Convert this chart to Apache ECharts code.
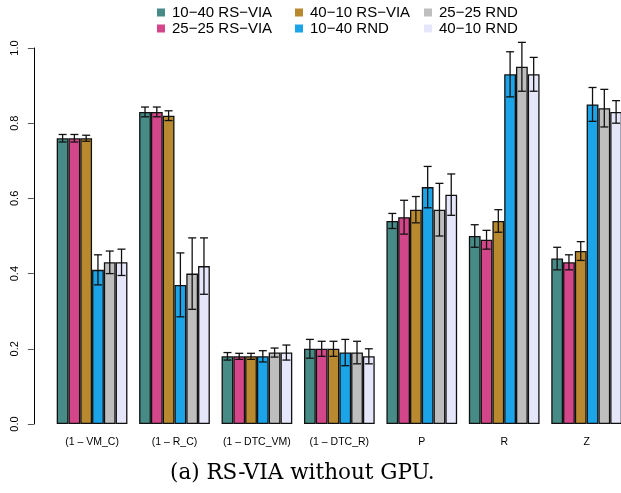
<!DOCTYPE html>
<html>
<head>
<meta charset="utf-8">
<script src="https://cdn.jsdelivr.net/npm/echarts@6/dist/echarts.min.js"></script>
<style>
  html, body { margin: 0; padding: 0; background: #fff; overflow: hidden; }
  #chart { width: 640px; height: 493px; }
</style>
</head>
<body>
<div id="chart"></div>
<script>
// categories on the x axis
const categories = ["(1 \u2013 VM_C)", "(1 \u2013 R_C)", "(1 \u2013 DTC_VM)", "(1 \u2013 DTC_R)", "P", "R", "Z"];
const seriesNames = ["10\u221240 RS\u2212VIA", "25\u221225 RS\u2212VIA", "40\u221210 RS\u2212VIA", "10\u221240 RND", "25\u221225 RND", "40\u221210 RND"];
const colors = ["#468b86", "#d4468a", "#b8892f", "#1ba4e8", "#bebebe", "#e6e6fa"];

// mean values, one array per series (order of categories)
const rsvia1040 = [0.76, 0.83, 0.18, 0.20, 0.54, 0.50, 0.44];
const rsvia2525 = [0.76, 0.83, 0.18, 0.20, 0.55, 0.49, 0.43];
const rsvia4010 = [0.76, 0.82, 0.18, 0.20, 0.57, 0.54, 0.46];
const rnd1040 = [0.41, 0.37, 0.18, 0.19, 0.63, 0.93, 0.85];
const rnd2525 = [0.43, 0.40, 0.19, 0.19, 0.57, 0.95, 0.84];
const rnd4010 = [0.43, 0.42, 0.19, 0.18, 0.61, 0.93, 0.83];

// half-width of the error bars
const errRsvia1040 = [0.010, 0.013, 0.010, 0.025, 0.020, 0.030, 0.030];
const errRsvia2525 = [0.010, 0.013, 0.008, 0.020, 0.045, 0.025, 0.020];
const errRsvia4010 = [0.008, 0.013, 0.008, 0.020, 0.035, 0.030, 0.025];
const errRnd1040 = [0.040, 0.085, 0.015, 0.035, 0.055, 0.060, 0.045];
const errRnd2525 = [0.030, 0.095, 0.012, 0.030, 0.070, 0.065, 0.050];
const errRnd4010 = [0.035, 0.075, 0.020, 0.020, 0.055, 0.045, 0.030];

const yTicks = [0, 0.2, 0.4, 0.6, 0.8, 1.0];

const values = [rsvia1040, rsvia2525, rsvia4010, rnd1040, rnd2525, rnd4010];
const errors = [errRsvia1040, errRsvia2525, errRsvia4010, errRnd1040, errRnd2525, errRnd4010];

const CAT_GAP = 0.142;

let barSeries = values.map(function (vals, s) {
  return {
    name: seriesNames[s],
    type: "bar",
    data: vals,
    barGap: "0%",
    barCategoryGap: (CAT_GAP * 100) + "%",
    itemStyle: { color: colors[s], borderColor: "#111", borderWidth: 1.3 },
    emphasis: { disabled: true },
    silent: true
  };
});

let errData = [];
values.forEach(function (vals, s) {
  vals.forEach(function (v, c) {
    errData.push([c, v - errors[s][c], v + errors[s][c], s]);
  });
});

const errSeries = {
  type: "custom",
  silent: true,
  z: 10,
  data: errData,
  encode: { x: 0, y: [1, 2] },
  renderItem: function (params, api) {
    let c = api.value(0);
    let s = api.value(3);
    let lo = api.coord([c, api.value(1)]);
    let hi = api.coord([c, api.value(2)]);
    let band = api.size([1, 0])[0];
    let groupW = band * (1 - CAT_GAP);
    let barW = groupW / 6;
    let x = lo[0] - groupW / 2 + (s + 0.5) * barW;
    let cap = 4;
    let st = { stroke: "#111", lineWidth: 1.3 };
    return {
      type: "group",
      children: [
        { type: "line", shape: { x1: x, y1: lo[1], x2: x, y2: hi[1] }, style: st },
        { type: "line", shape: { x1: x - cap, y1: lo[1], x2: x + cap, y2: lo[1] }, style: st },
        { type: "line", shape: { x1: x - cap, y1: hi[1], x2: x + cap, y2: hi[1] }, style: st }
      ]
    };
  }
};

function legendCol(left, names) {
  return {
    orient: "vertical",
    left: left,
    top: 0,
    itemWidth: 8,
    itemHeight: 8,
    itemGap: 1,
    icon: "rect",
    data: names,
    itemStyle: { borderWidth: 0 },
    textStyle: { fontFamily: "Liberation Sans, Arial", fontSize: 15, color: "#000", padding: [0, 0, 0, 2] },
    selectedMode: false
  };
}

// the plot runs past the right edge of the 621 px window, as in the reference
const chart = echarts.init(document.getElementById("chart"), null, { renderer: "canvas" });
chart.setOption({
  animation: false,
  color: colors,
  legend: [
    legendCol(152, [seriesNames[0], seriesNames[1]]),
    legendCol(290, [seriesNames[2], seriesNames[3]]),
    legendCol(419, [seriesNames[4], seriesNames[5]])
  ],
  title: {
    text: "(a) RS-VIA without GPU.",
    left: 165,
    top: 457,
    textStyle: { fontFamily: "DejaVu Serif, Liberation Serif, serif", fontSize: 21.5, fontWeight: "normal", color: "#000" }
  },
  grid: { left: 50.85, top: 48, width: 577, height: 376 },
  xAxis: {
    type: "category",
    data: categories,
    axisLine: { show: false },
    axisTick: { show: false },
    axisLabel: { fontFamily: "Liberation Sans, Arial", fontSize: 10.5, color: "#000", margin: 13, interval: 0 }
  },
  yAxis: {
    type: "value",
    min: 0,
    max: 1,
    interval: 0.2,
    offset: 17,
    splitLine: { show: false },
    axisLine: { show: true, lineStyle: { color: "#000", width: 1 } },
    axisTick: { show: true, length: 6, lineStyle: { color: "#555" } },
    axisLabel: {
      rotate: 90,
      margin: 13,
      fontFamily: "Liberation Sans, Arial",
      fontSize: 11,
      color: "#000",
      formatter: function (v) { return yTicks.indexOf(v) >= 0 ? v.toFixed(1) : ""; }
    }
  },
  series: barSeries.concat([errSeries])
});
</script>
</body>
</html>
